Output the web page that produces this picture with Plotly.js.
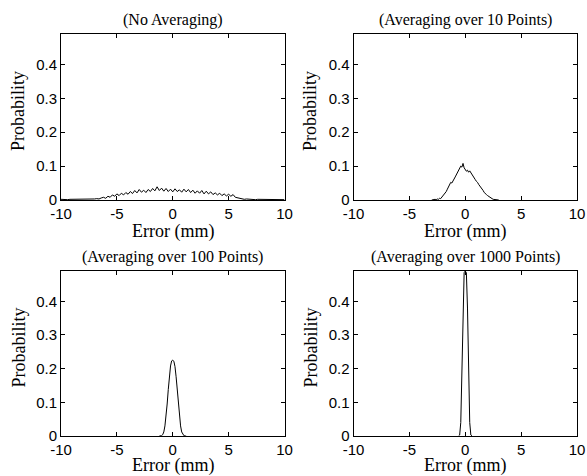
<!DOCTYPE html>
<html>
<head>
<meta charset="utf-8">
<script src="https://cdn.plot.ly/plotly-3.0.1.min.js"></script>
<style>html,body{margin:0;padding:0;background:#fff;}#chart{width:587px;height:476px;}</style>
</head>
<body>
<div id="chart"></div>
<script>
// Panel titles and axis labels
const panelTitles = ["(No Averaging)", "(Averaging over 10 Points)", "(Averaging over 100 Points)", "(Averaging over 1000 Points)"];
const xLabel = "Error (mm)";
const yLabel = "Probability";
const xTicks = [-10, -5, 0, 5, 10];
const yTicks = [0, 0.1, 0.2, 0.3, 0.4];

// No averaging: bins from -10 to 10, width 0.2
const noAvgStart = -10, noAvgStep = 0.2;
const noAvgProb = [
  0.002,0.001,0.002,0.001,0.002,0.002,0.001,0.002,0.001,0.002,0.002,0.001,0.002,0.003,0.002,0.003,
  0.004,0.003,0.006,0.008,0.005,0.011,0.008,0.015,0.011,0.018,
  0.013,0.020,0.015,0.022,0.017,0.025,0.019,0.028,0.021,0.031,
  0.023,0.029,0.022,0.031,0.025,0.034,0.027,0.039,0.028,0.035,
  0.026,0.034,0.025,0.032,0.024,0.033,0.025,0.030,0.023,0.032,
  0.024,0.031,0.022,0.029,0.020,0.027,0.020,0.028,0.018,0.026,
  0.018,0.024,0.016,0.021,0.015,0.020,0.013,0.018,0.012,0.017,
  0.011,0.016,0.008,0.006,0.004,0.003,0.002,0.003,0.002,0.001,
  0.002,0.001,0.002,0.002,0.001,0.002,0.001,0.002,0.001,0.002,0.001,0.002,0.001,0.002,0.001
];

// Averaging over 10 points: bins from -3 to 3, width 0.1
const avg10Start = -3, avg10Step = 0.1;
const avg10Prob = [
  0,0.001,0,0.002,0.001,0.003,0.002,0.005,0.004,0.008,
  0.011,0.015,0.020,0.025,0.032,0.040,0.048,0.052,0.050,0.058,
  0.062,0.068,0.075,0.080,0.088,0.094,0.100,0.097,0.108,0.095,
  0.090,0.085,0.088,0.082,0.086,0.080,0.075,0.072,0.066,0.060,
  0.055,0.052,0.046,0.042,0.038,0.032,0.028,0.022,0.020,0.016,
  0.013,0.010,0.008,0.005,0.004,0.002,0.002,0.001,0.001,0,0
];

// Averaging over 100 points: bins from -1.2 to 1.2, width 0.1
const avg100Start = -1.2, avg100Step = 0.1;
const avg100Prob = [0,0,0.001,0.004,0.012,0.030,0.058,0.095,0.138,0.178,0.208,0.223,0.225,
  0.222,0.206,0.176,0.136,0.093,0.057,0.030,0.012,0.004,0.001,0,0];

// Averaging over 1000 points: bins from -0.6 to 0.6, width 0.1
const avg1000Start = -0.6, avg1000Step = 0.1;
const avg1000Prob = [0,0.003,0.040,0.200,0.380,0.485,0.490,0.485,0.380,0.200,0.040,0.003,0];

const series = [
  {y: noAvgProb, x0: noAvgStart, dx: noAvgStep},
  {y: avg10Prob, x0: avg10Start, dx: avg10Step},
  {y: avg100Prob, x0: avg100Start, dx: avg100Step},
  {y: avg1000Prob, x0: avg1000Start, dx: avg1000Step}
];

const W = 587, H = 476;
const xDomains = [[61/W, 284.5/W], [353.5/W, 577/W]];
const yDomains = [[(H-200)/H, (H-34)/H], [(H-436)/H, (H-271)/H]];
const yLabelX = [18/W, 310/W];
const xLabelShift = [-32, -29];

const tickFont = {family: "Liberation Sans, Arial, sans-serif", size: 15, color: "#000"};
const labelFont = {family: "Liberation Serif, Times New Roman, serif", size: 18, color: "#000"};
const titleFont = {family: "Liberation Serif, Times New Roman, serif", size: 16, color: "#000"};

const traces = [];
const layout = {
  width: W, height: H,
  margin: {l: 0, r: 0, t: 0, b: 0},
  paper_bgcolor: "#fff", plot_bgcolor: "#fff",
  showlegend: false,
  annotations: []
};

series.forEach((s, i) => {
  const col = i % 2, row = Math.floor(i / 2);
  const n = i + 1;
  const xa = n === 1 ? "xaxis" : "xaxis" + n;
  const ya = n === 1 ? "yaxis" : "yaxis" + n;
  traces.push({
    type: "scatter", mode: "lines",
    x0: s.x0, dx: s.dx, y: s.y,
    xaxis: n === 1 ? "x" : "x" + n,
    yaxis: n === 1 ? "y" : "y" + n,
    line: {color: "#000", width: 1},
    hoverinfo: "skip"
  });
  const common = {
    showline: true, linecolor: "#000", linewidth: 1,
    mirror: "ticks", ticks: "inside", ticklen: 4, tickcolor: "#000",
    showgrid: false, zeroline: false, tickfont: tickFont
  };
  layout[xa] = Object.assign({}, common, {
    domain: xDomains[col], range: [-10, 10],
    tickvals: xTicks, ticktext: xTicks.map(String),
    anchor: n === 1 ? "y" : "y" + n
  });
  layout[ya] = Object.assign({}, common, {
    domain: yDomains[row], range: [0, 0.49],
    tickvals: yTicks, ticktext: yTicks.map(String),
    anchor: n === 1 ? "x" : "x" + n
  });
  const xc = (xDomains[col][0] + xDomains[col][1]) / 2;
  // panel title
  layout.annotations.push({
    text: panelTitles[i], font: titleFont, showarrow: false,
    xref: "paper", yref: "paper", xanchor: "center",
    x: xc, y: yDomains[row][1], yanchor: "bottom", yshift: 3
  });
  // x-axis label
  layout.annotations.push({
    text: xLabel, font: labelFont, showarrow: false,
    xref: "paper", yref: "paper", xanchor: "center", yanchor: "middle",
    x: xc, y: yDomains[row][0], yshift: xLabelShift[row]
  });
  // y-axis label
  layout.annotations.push({
    text: yLabel, font: labelFont, showarrow: false, textangle: -90,
    xref: "paper", yref: "paper", xanchor: "center", yanchor: "middle",
    x: yLabelX[col], y: (yDomains[row][0] + yDomains[row][1]) / 2, yshift: 6
  });
});

Plotly.newPlot("chart", traces, layout, {displayModeBar: false, staticPlot: true});
</script>
</body>
</html>
